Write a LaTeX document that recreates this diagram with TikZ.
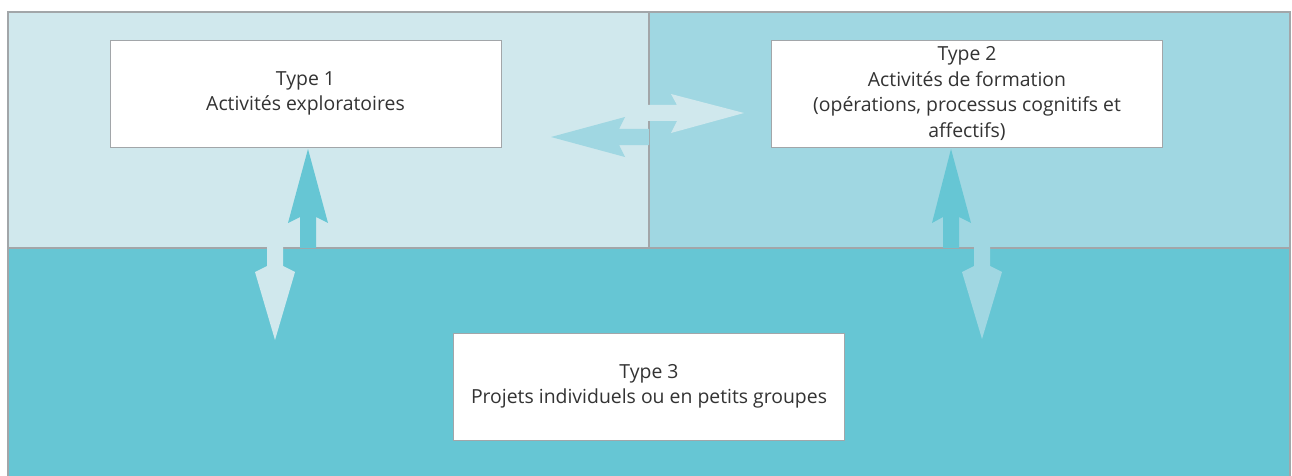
\documentclass[tikz,border=0pt]{standalone}
\usepackage{fontspec}
\setmainfont{Open Sans}
\definecolor{palecyan}{HTML}{D0E8ED}
\definecolor{midcyan}{HTML}{A0D7E2}
\definecolor{deepcyan}{HTML}{66C6D4}
\definecolor{rulegray}{HTML}{A2A6A9}
\definecolor{textgray}{HTML}{333333}
\tikzset{
  typebox/.style={draw=rulegray, line width=0.9pt, fill=white, minimum width=391pt,
    minimum height=107pt, align=center, text=textgray, inner sep=0pt,
    font=\fontsize{19.4}{25.5}\selectfont},
  frameline/.style={draw=rulegray, line width=1.3pt}
}
\begin{document}
\begin{tikzpicture}[x=1pt,y=-1pt]
\useasboundingbox (0,0) rectangle (1292,476);
% three zones
\fill[palecyan] (8,12) rectangle (649,248);
\fill[midcyan] (649,12) rectangle (1290,248);
\fill[deepcyan] (8,248) rectangle (1290,476);
\draw[frameline] (8,476) -- (8,12) -- (1290,12) -- (1290,476);
\draw[frameline] (649,12) -- (649,248);
\draw[frameline] (8,248) -- (1290,248);
% block arrows
\fill[deepcyan] (300,248) -- (300,217) -- (288,223) -- (308,149) -- (328,223) -- (316,217) -- (316,248) -- cycle;
\fill[palecyan] (267,246) -- (267,266) -- (255,272) -- (275,340) -- (295,272) -- (283,266) -- (283,246) -- cycle;
\fill[deepcyan] (943,248) -- (943,217) -- (932,223) -- (951,149) -- (971,223) -- (959,217) -- (959,248) -- cycle;
\fill[midcyan] (974,246) -- (974,266) -- (962,272) -- (982,339) -- (1002,272) -- (990,266) -- (990,246) -- cycle;
\fill[palecyan] (647,105) -- (677,105) -- (671,94) -- (744,113) -- (671,133) -- (677,121) -- (647,121) -- cycle;
\fill[midcyan] (649,129) -- (619,129) -- (625,117) -- (551,137) -- (625,157) -- (619,145) -- (649,145) -- cycle;
% boxes
\node[typebox] (type1) at (305.5,93.5) {Type 1\\Activités exploratoires};
\node[typebox] (type2) at (967,93.5) {Type 2\\Activités de formation\\(opérations, processus cognitifs et\\affectifs)};
\node[typebox] (type3) at (649,386.5) {Type 3\\Projets individuels ou en petits groupes};
\end{tikzpicture}
\end{document}
